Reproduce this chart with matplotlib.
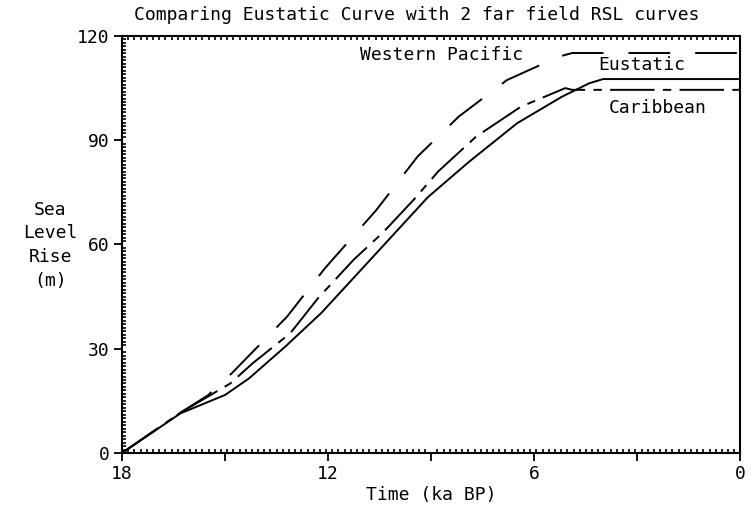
import numpy as np
import matplotlib
matplotlib.use("Agg")
import matplotlib.pyplot as plt
from matplotlib.ticker import MultipleLocator, FixedLocator

# old bitmap font is roughly fixed width, mono matches the text widths best
plt.rcParams["font.family"] = ["DejaVu Sans Mono"]
plt.rcParams["lines.scale_dashes"] = False

# time (ka BP) / sea level rise (m)
eustatic_t = [18, 16.3, 15.0, 14.3, 13.25, 12.2, 10.7, 9.1, 7.9, 6.5, 5.2, 4.4, 4.0, 0]
eustatic_v = [0, 11.4, 16.7, 21.5, 30.6, 40.3, 56.4, 73.6, 83.8, 94.9, 102.5, 106.4, 107.6, 107.6]

carib_t = [18, 16.3, 14.85, 14.2, 13.1, 12.3, 11.26, 10.4, 9.5, 8.8, 7.7, 6.4, 5.1, 4.9, 0]
carib_v = [0, 11.6, 20.0, 25.8, 34.5, 44.5, 55.6, 63.5, 73.0, 81.0, 91.0, 99.6, 105.0, 104.5, 104.5]

wpac_t = [18, 16.3, 15.5, 14.8, 13.2, 12.1, 10.6, 9.4, 8.2, 6.8, 5.3, 4.9, 0]
wpac_v = [0, 11.6, 16.6, 23.0, 39.2, 53.1, 69.9, 85.3, 96.8, 107.3, 114.0, 115.1, 115.1]

x_major = [18, 15, 12, 9, 6, 3, 0]
x_labels = ["18", "", "12", "", "6", "", "0"]
y_major = [0, 30, 60, 90, 120]
y_labels = ["0", "30", "60", "90", "120"]

FS = 13

fig = plt.figure(figsize=(7.51, 5.14), dpi=100)
ax = fig.add_axes([0.1625, 0.1187, 0.8235, 0.8113])

ax.plot(eustatic_t, eustatic_v, color="black", lw=1.4)
ax.plot(carib_t, carib_v, color="black", lw=1.4, dashes=(32, 6, 6, 6))
ax.plot(wpac_t, wpac_v, color="black", lw=1.4, dashes=(30, 18))

ax.set_xlim(18, 0)
ax.set_ylim(0, 120)

ax.xaxis.set_major_locator(FixedLocator(x_major))
ax.set_xticklabels(x_labels)
ax.yaxis.set_major_locator(FixedLocator(y_major))
ax.set_yticklabels(y_labels)
ax.xaxis.set_minor_locator(MultipleLocator(0.18))
ax.yaxis.set_minor_locator(MultipleLocator(1))

ax.tick_params(axis="both", which="major", direction="out", length=6, width=1.3,
               labelsize=FS, pad=3)
ax.tick_params(axis="x", which="minor", direction="in", length=3, width=1.2,
               top=True, bottom=True)
ax.tick_params(axis="y", which="minor", direction="in", length=3, width=1.2,
               left=True, right=False)
for sp in ax.spines.values():
    sp.set_linewidth(1.5)

ax.text(6.32, 114.5, "Western Pacific", ha="right", va="center", fontsize=FS)
ax.text(2.88, 111.7, "Eustatic", ha="center", va="center", fontsize=FS)
ax.text(2.42, 99.3, "Caribbean", ha="center", va="center", fontsize=FS)

ax.set_xlabel("Time (ka BP)", fontsize=FS, labelpad=2)
fig.text(0.067, 0.523, "Sea\nLevel\nRise\n(m)", ha="center", va="center",
         fontsize=FS, linespacing=1.4)
fig.text(0.555, 0.97, "Comparing Eustatic Curve with 2 far field RSL curves",
         ha="center", va="center", fontsize=FS)

fig.savefig("out.png", dpi=100)
